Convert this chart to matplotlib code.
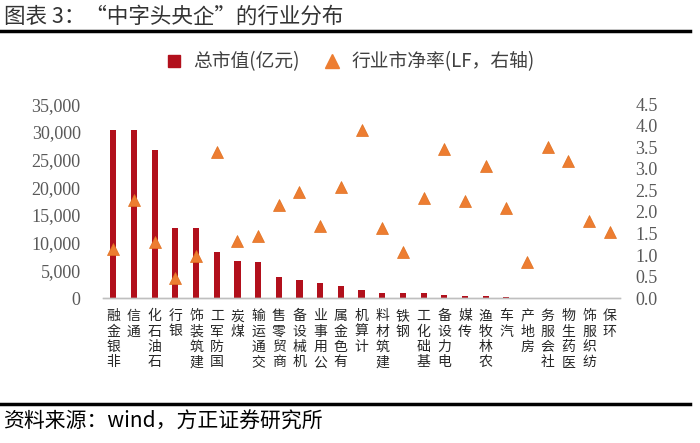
import matplotlib
matplotlib.use("Agg")
import matplotlib.pyplot as plt
from matplotlib.lines import Line2D
from matplotlib.ticker import FuncFormatter, MultipleLocator
import numpy as np

plt.rcParams["font.family"] = ["Noto Sans CJK SC", "DejaVu Sans"]

industries = [
    "非银金融", "通信", "石油石化", "银行", "建筑装饰", "国防军工", "煤炭",
    "交通运输", "商贸零售", "机械设备", "公用事业", "有色金属", "计算机",
    "建筑材料", "钢铁", "基础化工", "电力设备", "传媒", "农林牧渔", "汽车",
    "房地产", "社会服务", "医药生物", "纺织服饰", "环保",
]
market_cap = [
    30400, 30250, 26700, 12700, 12650, 8250, 6750,
    6550, 3800, 3250, 2700, 2150, 1550,
    950, 900, 850, 550, 380, 300, 120,
    90, 80, 40, 30, 20,
]
pb_lf = [
    1.15, 2.27, 1.31, 0.47, 0.98, 3.40, 1.33,
    1.45, 2.17, 2.45, 1.68, 2.57, 3.91,
    1.62, 1.06, 2.32, 3.46, 2.26, 3.07, 2.10,
    0.84, 3.50, 3.18, 1.80, 1.53,
]

BAR_RED = "#B2101C"
TRI_ORANGE = "#ED7D31"
TICK_GREY = "#595959"
SERIF = ["Liberation Serif", "DejaVu Serif"]

fig = plt.figure(figsize=(7.0, 4.43), dpi=100)
fig.patch.set_facecolor("white")

ax = fig.add_axes([0.147, 0.327, 0.739, 0.438])
x = np.arange(len(industries))

ax.bar(x, market_cap, width=0.3, color=BAR_RED, zorder=2)
ax.set_xlim(-0.5, len(industries) - 0.5)
ax.set_ylim(0, 35000)
ax.yaxis.set_major_locator(MultipleLocator(5000))
ax.yaxis.set_major_formatter(FuncFormatter(lambda v, _: f"{v:,.0f}"))

ax2 = ax.twinx()
ax2.plot(x, pb_lf, linestyle="none", marker="^", markersize=9,
         color=TRI_ORANGE, markeredgecolor="#E07020", markeredgewidth=0.5, zorder=3)
ax2.set_ylim(0, 4.5)
ax2.yaxis.set_major_locator(MultipleLocator(0.5))
ax2.yaxis.set_major_formatter(FuncFormatter(lambda v, _: f"{v:.1f}"))

for a in (ax, ax2):
    for side in ("top", "left", "right"):
        a.spines[side].set_visible(False)
    a.spines["bottom"].set_color("#BFBFBF")
    a.spines["bottom"].set_linewidth(1.0)

ax.tick_params(axis="y", length=0, pad=16, labelcolor=TICK_GREY, labelsize=13)
ax2.tick_params(axis="y", length=0, pad=11, labelcolor=TICK_GREY, labelsize=13)
for lab in ax.get_yticklabels() + ax2.get_yticklabels():
    lab.set_family(SERIF)

# x labels: upright characters stacked, reading bottom to top
stacked = ["\n".join(reversed(name)) for name in industries]
ax.set_xticks(x)
ax.set_xticklabels(stacked, fontsize=10, color="#262626", linespacing=1.12, va="top")
ax.tick_params(axis="x", length=0, pad=8)

handles = [
    Line2D([], [], linestyle="none", marker="s", markersize=8, color=BAR_RED,
           label="总市值(亿元)"),
    Line2D([], [], linestyle="none", marker="^", markersize=10, color=TRI_ORANGE,
           label="行业市净率(LF，右轴)"),
]
fig.legend(handles=handles, loc="center", bbox_to_anchor=(0.493, 0.86), ncol=2,
           frameon=False, fontsize=13.5, handletextpad=0.05, columnspacing=0.7,
           labelcolor="#404040")

fig.text(0.005, 0.963, "图表 3：“中字头央企”的行业分布", fontsize=15.5,
         color="#333333", va="center", ha="left")
fig.add_artist(Line2D([0.0, 0.985], [0.929, 0.929], color="black", linewidth=2.5))
fig.add_artist(Line2D([0.0, 0.985], [0.088, 0.088], color="black", linewidth=2.5))
fig.text(0.005, 0.048, "资料来源：wind，方正证券研究所", fontsize=15,
         color="black", va="center", ha="left", style="italic")

fig.savefig("out.png", dpi=100, facecolor="white")
plt.close(fig)
